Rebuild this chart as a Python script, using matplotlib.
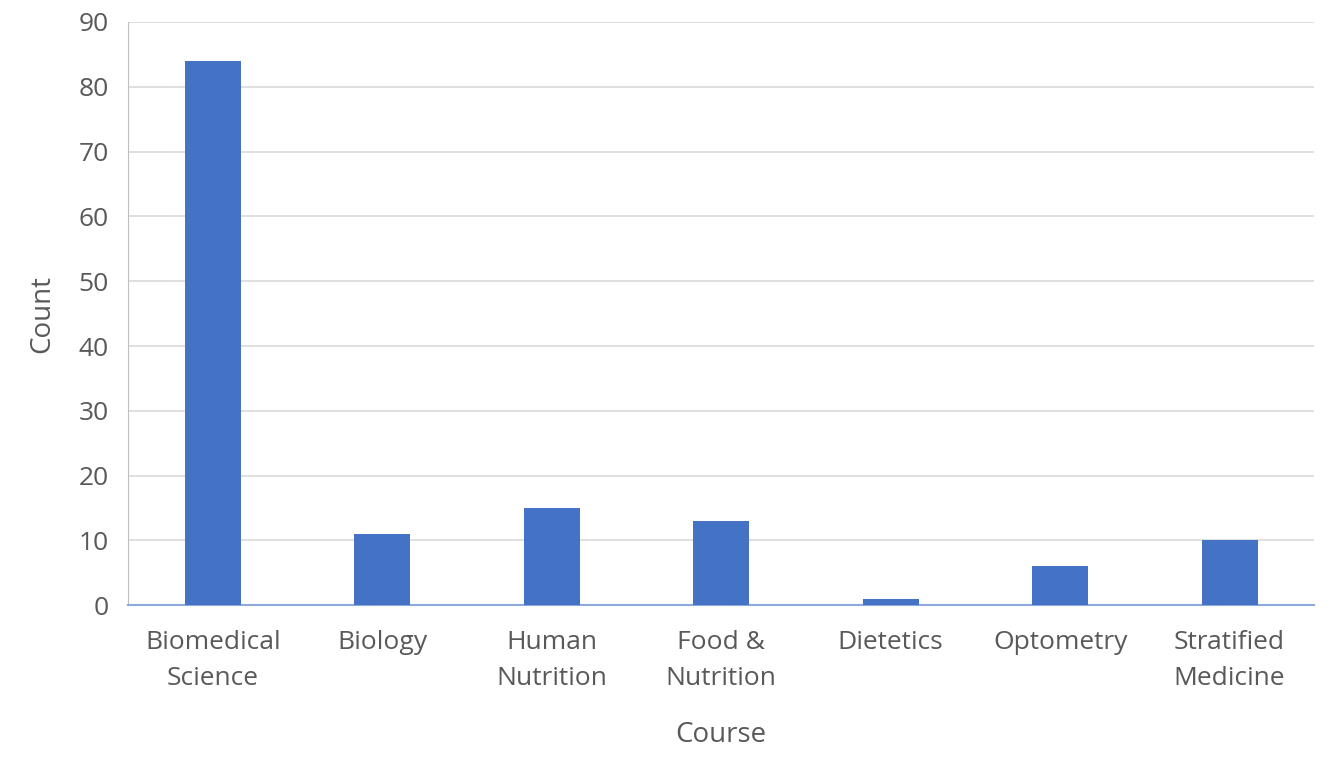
import matplotlib
matplotlib.use('Agg')
import matplotlib.pyplot as plt

courses = ['Biomedical\nScience', 'Biology', 'Human\nNutrition', 'Food &\nNutrition',
           'Dietetics', 'Optometry', 'Stratified\nMedicine']
counts = [84, 11, 15, 13, 1, 6, 10]
yticks = [0, 10, 20, 30, 40, 50, 60, 70, 80, 90]

plt.rcParams['font.family'] = 'Open Sans'
text_color = '#595959'

fig = plt.figure(figsize=(13.36, 7.84), dpi=100)
ax = fig.add_axes([0.0958, 0.228, 0.888, 0.744])
x = range(len(courses))
ax.bar(x, counts, width=0.33, color='#4472C4', zorder=3)
ax.set_xlim(-0.5, len(courses) - 0.5)
ax.set_ylim(0, 90)
ax.set_yticks(yticks)
ax.set_xticks(list(x))
ax.set_xticklabels(courses, fontsize=19, color=text_color, linespacing=1.55)
ax.tick_params(axis='y', labelsize=19, labelcolor=text_color, length=0, pad=14)
ax.tick_params(axis='x', length=0, pad=18)
ax.grid(axis='y', color='#D9D9D9', linewidth=1.2, zorder=0)
for s in ['top', 'right']:
    ax.spines[s].set_visible(False)
ax.spines['left'].set_color('#BFBFBF')
ax.spines['bottom'].set_color('#8EA9DB')
ax.spines['bottom'].set_linewidth(1.5)
ax.set_xlabel('Course', fontsize=20, color=text_color, labelpad=22)
ax.set_ylabel('Count', fontsize=20, color=text_color, labelpad=16)

fig.savefig('out.png', dpi=100)
